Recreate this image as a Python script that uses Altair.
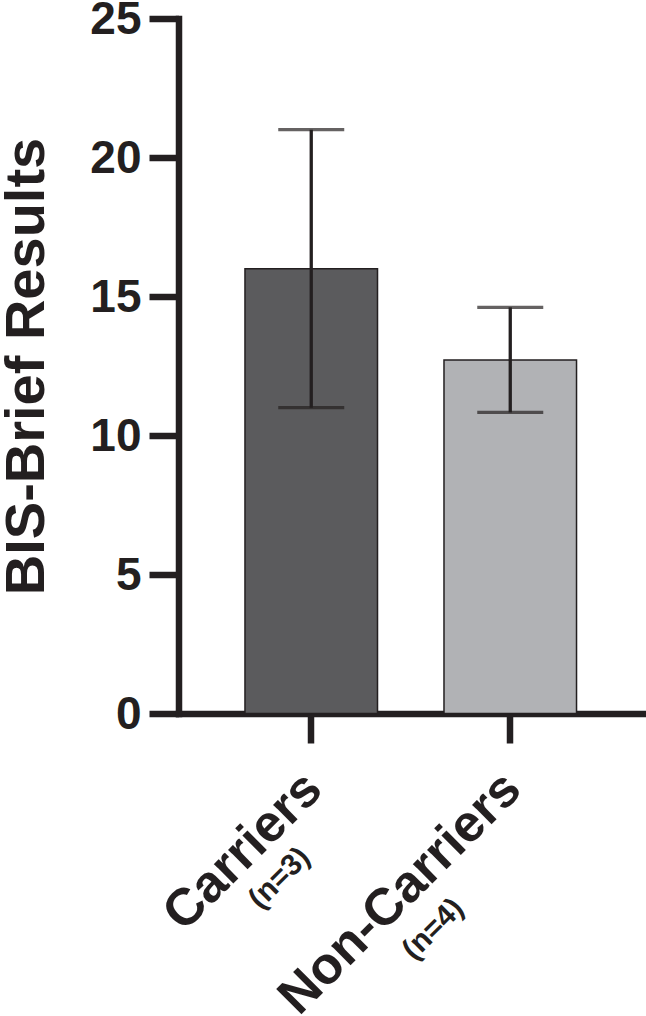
import altair as alt
import pandas as pd

groups = ["Carriers", "Non-Carriers"]
n_labels = ["(n=3)", "(n=4)"]
means = [16.0, 12.72]
errors = [5.0, 1.89]
bar_colors = ["#5b5b5d", "#b1b2b5"]
y_ticks = [0, 5, 10, 15, 20, 25]

df = pd.DataFrame({"group": groups, "n": n_labels, "mean": means, "err": errors})

FONT = "Liberation Sans"
INK = "#231f20"

base = alt.Chart(df).transform_calculate(
    lo="datum.mean - datum.err", hi="datum.mean + datum.err"
)

x = alt.X(
    "group:N",
    sort=groups,
    scale=alt.Scale(padding=0.334),
    axis=alt.Axis(
        title=None, labels=False, ticks=True, tickSize=29.5, tickWidth=6.5,
        tickColor=INK, domainColor=INK, domainWidth=6.5, domainCap="square",
        grid=False,
    ),
)

yscale = alt.Scale(domain=[0, 25], nice=False)

bars = base.mark_bar(stroke=INK, strokeWidth=1.5).encode(
    x=x,
    y=alt.Y(
        "mean:Q",
        scale=yscale,
        axis=alt.Axis(
            values=y_ticks, title="BIS-Brief Results", titleFont=FONT,
            titleFontSize=56, titleFontWeight="bold", titleColor=INK,
            titleAngle=270, titleX=-135.5, titleY=347.5, titleAlign="center",
            titleBaseline="alphabetic", labelFont=FONT, labelFontSize=46,
            labelFontWeight="bold", labelColor=INK, labelPadding=8,
            labelAlign="right", labelBaseline="alphabetic", labelOffset=15,
            tickSize=29.5, tickWidth=6.5, tickColor=INK, domainColor=INK,
            domainWidth=6.5, domainCap="square", grid=False,
        ),
    ),
    color=alt.Color("group:N", scale=alt.Scale(domain=groups, range=bar_colors), legend=None),
)

rule = base.mark_rule(color=INK, strokeWidth=3.3).encode(
    x=x, y=alt.Y("lo:Q", scale=yscale), y2="hi:Q"
)
cap_lo = base.mark_tick(color=INK, thickness=3.3, size=66).encode(
    x=x, y=alt.Y("lo:Q", scale=yscale)
)
cap_hi = base.mark_tick(color=INK, thickness=3.3, size=66).encode(
    x=x, y=alt.Y("hi:Q", scale=yscale)
)

main_labels = base.mark_text(
    font=FONT, fontWeight="bold", fontSize=52, angle=315, align="right",
    baseline="alphabetic", dx=-46, dy=65, color=INK,
).encode(x=x, y=alt.datum(0), text="group:N")

n_common = dict(font=FONT, fontWeight="bold", fontSize=30, angle=315,
                align="center", baseline="middle", color=INK)
n_first = base.transform_filter(alt.datum.group == groups[0]).mark_text(
    dx=-139, dy=94, **n_common
).encode(x=x, y=alt.datum(0), text="n:N")
n_second = base.transform_filter(alt.datum.group == groups[1]).mark_text(
    dx=-207, dy=98, **n_common
).encode(x=x, y=alt.datum(0), text="n:N")

chart = (
    alt.layer(bars, rule, cap_lo, cap_hi, main_labels, n_first, n_second)
    .properties(
        width=464.5,
        height=695,
        autosize=alt.AutoSizeParams(type="none"),
        padding={"left": 178.5, "top": 18.5, "right": 3, "bottom": 302.5},
        background="white",
    )
    .configure_view(stroke=None)
)

chart.save("out.html", embed_options={"renderer": "svg", "actions": False})
